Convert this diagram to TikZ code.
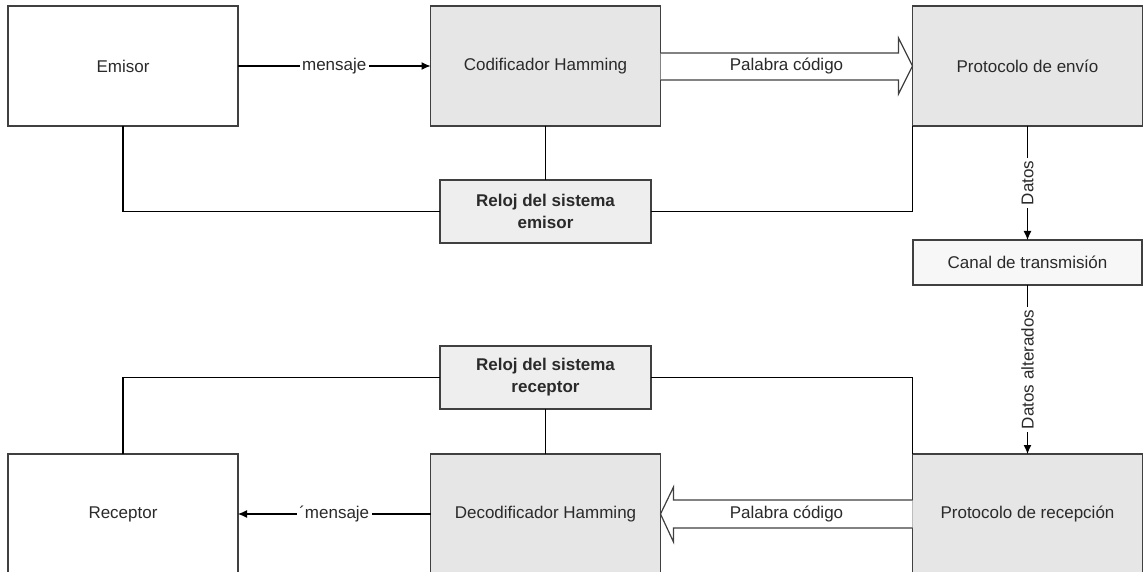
\documentclass[tikz,border=0pt]{standalone}
\usepackage{fontspec}
\setmainfont{Liberation Sans}
\usetikzlibrary{calc,arrows.meta}
\definecolor{boxline}{HTML}{404040}
\definecolor{txt}{HTML}{2A2A2A}
\definecolor{fillA}{HTML}{E6E6E6}
\definecolor{fillB}{HTML}{EEEEEE}
\definecolor{fillC}{HTML}{F7F7F7}
\tikzset{
  blk/.style={draw=boxline, line width=1.3pt, inner sep=0pt, outer sep=0pt, text=txt,
    font=\fontsize{17}{19}\selectfont, align=center},
  bigbox/.style={blk, minimum width=230pt, minimum height=120pt},
  clockbox/.style={blk, fill=fillB, minimum width=211pt, minimum height=63pt,
    font=\fontsize{17}{22}\selectfont\bfseries},
  wire/.style={draw=black, line width=1.1pt},
  arr/.style={wire, -{Latex[length=9pt,width=8pt]}},
  lbl/.style={fill=white, text=txt, inner sep=2.5pt, font=\fontsize{17}{19}\selectfont},
  hollow/.style={draw=boxline, line width=1.2pt, fill=white, line join=miter}
}
\begin{document}
\begin{tikzpicture}[x=1pt,y=-1pt]
\useasboundingbox (0,0) rectangle (1144,572);
\clip (0,0) rectangle (1144,572);
% top row
\node[bigbox] (emisor) at (123,66) {Emisor};
\node[bigbox, fill=fillA] (cod) at (545.5,66) {Codificador Hamming};
\node[bigbox, fill=fillA] (envio) at (1027.5,66) {Protocolo de envío};
\node[clockbox] (relojE) at (545.5,211.5) {Reloj del sistema\\emisor};
\node[blk, fill=fillC, minimum width=229pt, minimum height=45pt] (canal) at (1027.5,262.5) {Canal de transmisión};
% bottom row
\node[clockbox] (relojR) at (545.5,377.5) {Reloj del sistema\\receptor};
\node[bigbox] (receptor) at (123,514) {Receptor};
\node[bigbox, fill=fillA] (decod) at (545.5,514) {Decodificador Hamming};
\node[bigbox, fill=fillA] (recep) at (1027.5,514) {Protocolo de recepción};
% message arrows
\draw[arr] (emisor.east) -- node[lbl] {mensaje} (cod.west);
\draw[arr] (decod.west) -- node[lbl] {´mensaje} (receptor.east);
% clock wiring
\draw[wire] (emisor.south) |- (relojE.west);
\draw[wire] (relojE.east) -| (envio.south west);
\draw[wire] (cod.south) -- (relojE.north);
\draw[wire] (receptor.north) |- (relojR.west);
\draw[wire] (relojR.east) -| (recep.north west);
\draw[wire] (relojR.south) -- (decod.north);
% data path
\draw[arr] (envio.south) -- node[lbl, rotate=90] {Datos} (canal.north);
\draw[arr] (canal.south) -- node[lbl, rotate=90] {Datos alterados} (recep.north);
% hollow arrows
\draw[hollow] ($(cod.east)+(0,-13)$) -- ($(envio.west)+(-14,-13)$) -- ($(envio.west)+(-14,-28)$)
  -- (envio.west) -- ($(envio.west)+(-14,28)$) -- ($(envio.west)+(-14,14)$) -- ($(cod.east)+(0,14)$);
\node[text=txt, font=\fontsize{17}{19}\selectfont] (pc1) at ($(cod.east)!0.5!(envio.west)$) {Palabra código};
\draw[hollow] ($(recep.west)+(0,-14)$) -- ($(decod.east)+(13,-14)$) -- ($(decod.east)+(13,-27)$)
  -- (decod.east) -- ($(decod.east)+(13,28)$) -- ($(decod.east)+(13,14)$) -- ($(recep.west)+(0,14)$);
\node[text=txt, font=\fontsize{17}{19}\selectfont] (pc2) at ($(decod.east)!0.5!(recep.west)$) {Palabra código};
\end{tikzpicture}
\end{document}
